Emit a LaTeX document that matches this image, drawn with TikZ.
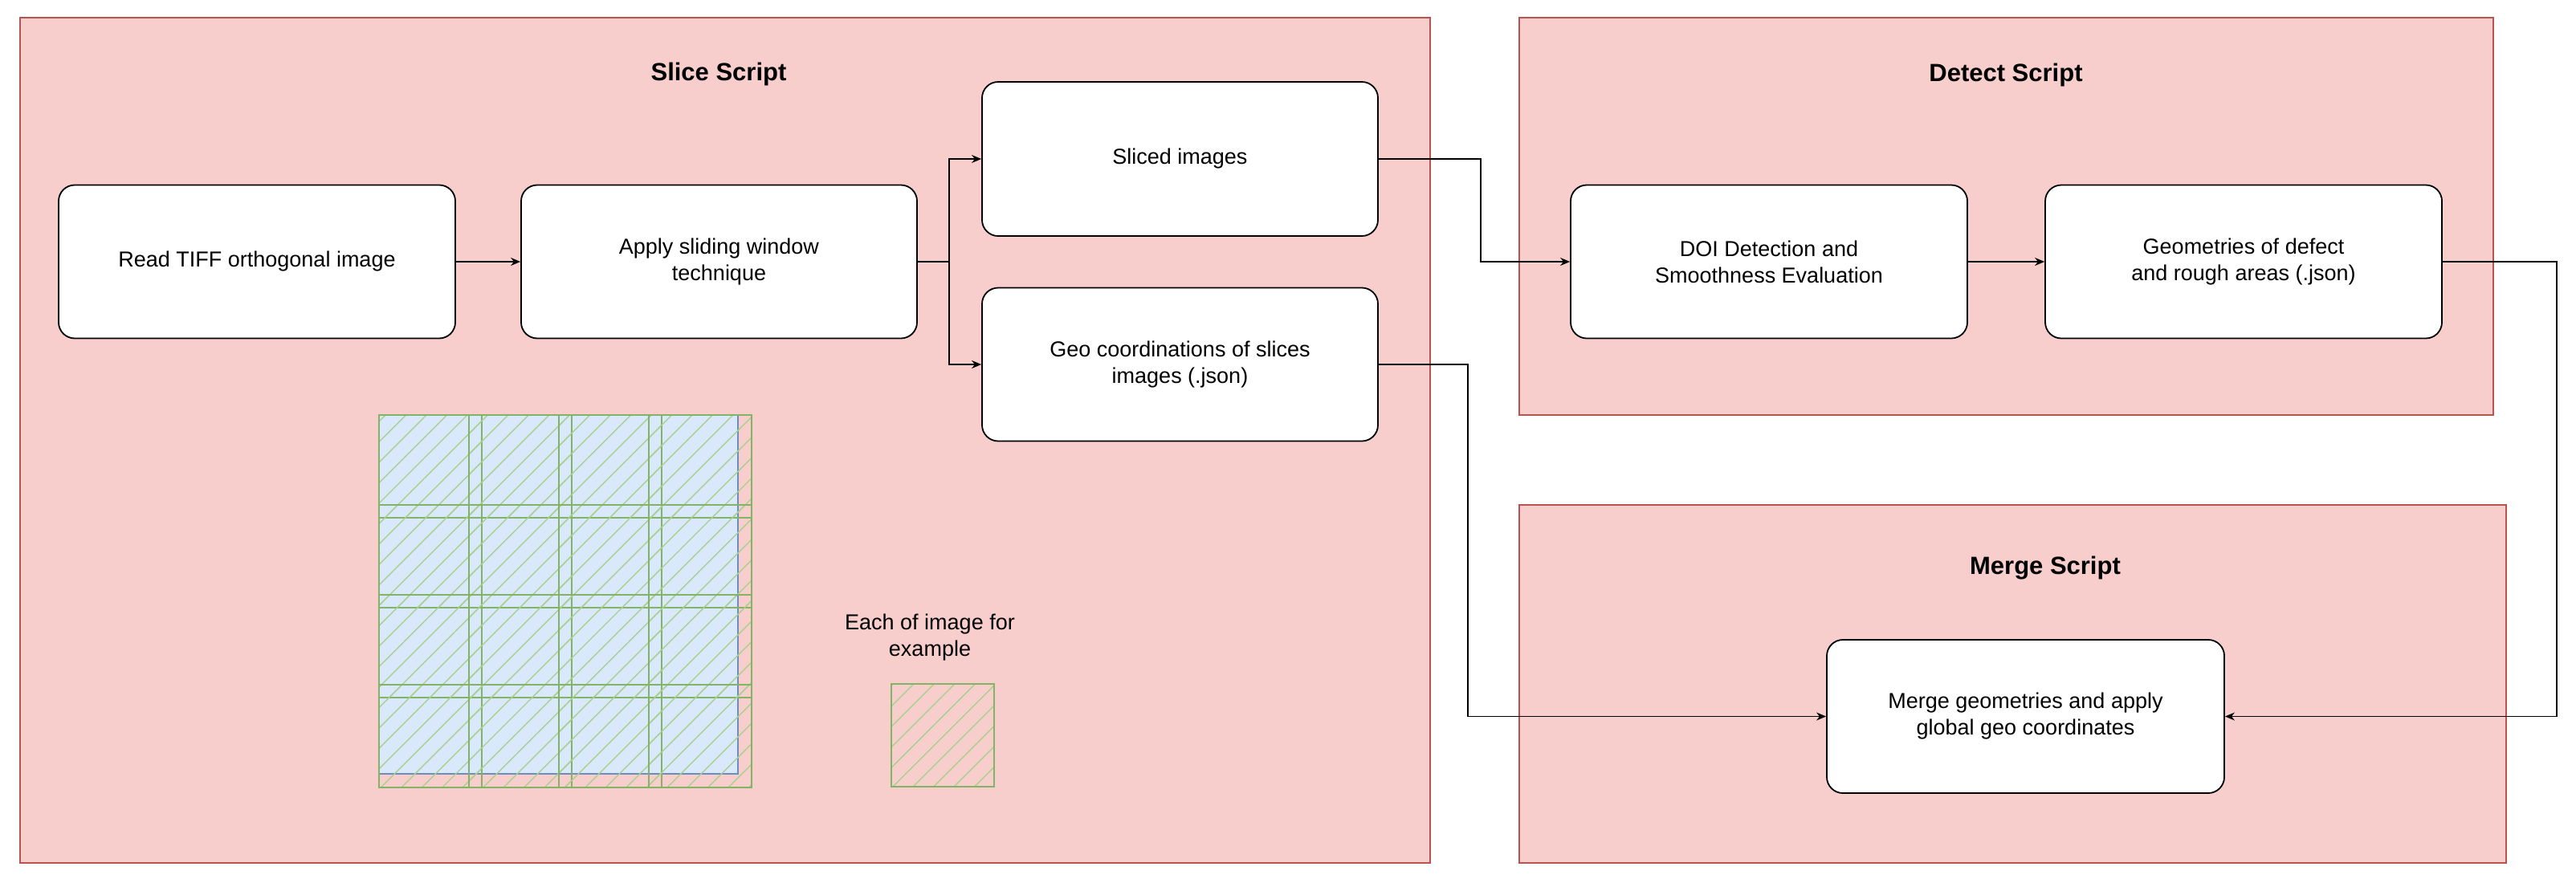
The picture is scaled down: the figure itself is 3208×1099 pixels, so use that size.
\documentclass[tikz,border=0pt]{standalone}
\usepackage{fontspec}
\setmainfont{Liberation Sans}
\usetikzlibrary{patterns.meta,arrows.meta}
\definecolor{boxfill}{HTML}{F8CECC}
\definecolor{boxline}{HTML}{B85450}
\definecolor{bluefill}{HTML}{DAE8FC}
\definecolor{blueline}{HTML}{6C8EBF}
\definecolor{greenline}{HTML}{82B366}
\definecolor{hatch}{HTML}{A9D18E}
\begin{document}
\begin{tikzpicture}[x=0.5pt,y=-0.5pt,
  group/.style={draw=boxline,fill=boxfill,line width=0.7pt},
  title/.style={font=\bfseries\fontsize{15.5}{18}\selectfont},
  proc/.style={draw=black,fill=white,rounded corners=10pt,line width=0.9pt,align=center,
     font=\fontsize{13.5}{16.5}\selectfont,inner sep=0pt},
  conn/.style={line width=0.7pt,-{Stealth[length=6pt,width=5pt]}},
  tile/.style={draw=greenline,line width=0.8pt,pattern={Lines[angle=45,distance=9pt,line width=0.7pt]},pattern color=hatch}]
\useasboundingbox (0,0) rectangle (3208,1099);
\fill[white] (0,0) rectangle (3208,1099);
% groups
\draw[group] (25,22) rectangle (1781,1075);
\draw[group] (1892,22) rectangle (3105,517);
\draw[group] (1892,629) rectangle (3121,1075);
\node[title] (t1) at (895,92) {Slice Script};
\node[title] (t2) at (2498,93) {Detect Script};
\node[title] (t3) at (2547,708) {Merge Script};
% process nodes
\node[proc,minimum width=247pt,minimum height=95.5pt] (read) at (320,326) {Read TIFF orthogonal image};
\node[proc,minimum width=246.5pt,minimum height=95.5pt] (apply) at (895.5,326) {Apply sliding window\\technique};
\node[proc,minimum width=246.5pt,minimum height=96pt] (sliced) at (1469.5,198) {Sliced images};
\node[proc,minimum width=246.5pt,minimum height=95.5pt] (geo) at (1469.5,454) {Geo coordinations of slices\\images (.json)};
\node[proc,minimum width=247pt,minimum height=95.5pt] (doi) at (2203,326) {DOI Detection and\\Smoothness Evaluation};
\node[proc,minimum width=247pt,minimum height=95.5pt] (geom) at (2794,326) {Geometries of defect\\and rough areas (.json)};
\node[proc,minimum width=247.5pt,minimum height=95.5pt] (merge) at (2522.5,892.5) {Merge geometries and apply\\global geo coordinates};
% connectors
\coordinate (br) at (1182,326);
\draw[conn] (read) -- (apply);
\draw[line width=0.7pt] (apply.east) -- (br);
\draw[conn] (br) |- (sliced.west);
\draw[conn] (br) |- (geo.west);
\coordinate (c1) at (1844,198);
\draw[conn] (sliced.east) -- (c1) |- (doi.west);
\draw[conn] (doi) -- (geom);
\coordinate (c2) at (1828,454);
\draw[conn] (geo.east) -- (c2) |- (merge.west);
\coordinate (c3) at (3184,326);
\draw[conn] (geom.east) -- (c3) |- (merge.east);
% grid illustration
\draw[fill=bluefill,draw=blueline,line width=0.9pt] (472,517) rectangle (919,964);
\foreach \i in {0,...,3}{\foreach \j in {0,...,3}{
  \draw[tile] ({472+112*\i},{517+112*\j}) rectangle ++(128,128);}}
\node[font=\fontsize{13.5}{16.5}\selectfont,align=center] (lbl) at (1158,794) {Each of image for\\example};
\draw[tile] (1110,852) rectangle (1238,980);
\end{tikzpicture}
\end{document}
